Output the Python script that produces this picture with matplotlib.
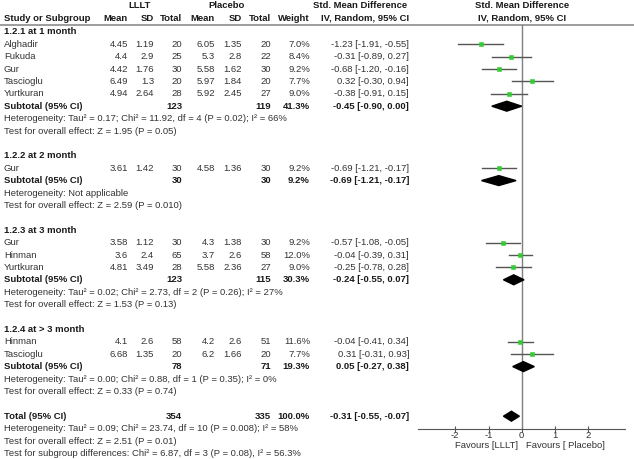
import numpy as np
import matplotlib.pyplot as plt
from matplotlib.patches import Polygon

plt.rcParams['font.family'] = ['Liberation Sans', 'DejaVu Sans']
plt.rcParams['axes.unicode_minus'] = False

# ---- data ----
group_titles = ["1.2.1 at 1 month", "1.2.2 at 2 month", "1.2.3 at 3 month", "1.2.4 at > 3 month"]

study_names = ["Alghadir", "Fukuda", "Gur", "Tascioglu", "Yurtkuran",
               "Gur",
               "Gur", "Hinman", "Yurtkuran",
               "Hinman", "Tascioglu"]
study_group = [0, 0, 0, 0, 0, 1, 2, 2, 2, 3, 3]
lllt_mean = ["4.45", "4.4", "4.42", "6.49", "4.94", "3.61", "3.58", "3.6", "4.81", "4.1", "6.68"]
lllt_sd = ["1.19", "2.9", "1.76", "1.3", "2.64", "1.42", "1.12", "2.4", "3.49", "2.6", "1.35"]
lllt_n = [20, 25, 30, 20, 28, 30, 30, 65, 28, 58, 20]
plac_mean = ["6.05", "5.3", "5.58", "5.97", "5.92", "4.58", "4.3", "3.7", "5.58", "4.2", "6.2"]
plac_sd = ["1.35", "2.8", "1.62", "1.84", "2.45", "1.36", "1.38", "2.6", "2.36", "2.6", "1.66"]
plac_n = [20, 22, 30, 20, 27, 30, 30, 58, 27, 51, 20]
weight = [7.0, 8.4, 9.2, 7.7, 9.0, 9.2, 9.2, 12.0, 9.0, 11.6, 7.7]
smd = [-1.23, -0.31, -0.68, 0.32, -0.38, -0.69, -0.57, -0.04, -0.25, -0.04, 0.31]
ci_lo = [-1.91, -0.89, -1.20, -0.30, -0.91, -1.21, -1.08, -0.39, -0.78, -0.41, -0.31]
ci_hi = [-0.55, 0.27, -0.16, 0.94, 0.15, -0.17, -0.05, 0.31, 0.28, 0.34, 0.93]

sub_n_lllt = [123, 30, 123, 78]
sub_n_plac = [119, 30, 115, 71]
sub_weight = [41.3, 9.2, 30.3, 19.3]
sub_smd = [-0.45, -0.69, -0.24, 0.05]
sub_lo = [-0.90, -1.21, -0.55, -0.27]
sub_hi = [0.00, -0.17, 0.07, 0.38]
sub_het = ["Heterogeneity: Tau\u00b2 = 0.17; Chi\u00b2 = 11.92, df = 4 (P = 0.02); I\u00b2 = 66%",
           "Heterogeneity: Not applicable",
           "Heterogeneity: Tau\u00b2 = 0.02; Chi\u00b2 = 2.73, df = 2 (P = 0.26); I\u00b2 = 27%",
           "Heterogeneity: Tau\u00b2 = 0.00; Chi\u00b2 = 0.88, df = 1 (P = 0.35); I\u00b2 = 0%"]
sub_z = ["Test for overall effect: Z = 1.95 (P = 0.05)",
         "Test for overall effect: Z = 2.59 (P = 0.010)",
         "Test for overall effect: Z = 1.53 (P = 0.13)",
         "Test for overall effect: Z = 0.33 (P = 0.74)"]

total_n = [354, 335]
total_smd, total_lo, total_hi = -0.31, -0.55, -0.07
total_notes = ["Heterogeneity: Tau\u00b2 = 0.09; Chi\u00b2 = 23.74, df = 10 (P = 0.008); I\u00b2 = 58%",
               "Test for overall effect: Z = 2.51 (P = 0.01)",
               "Test for subgroup differences: Chi\u00b2 = 6.87, df = 3 (P = 0.08), I\u00b2 = 56.3%"]

# ---- layout (pixels) ----
W, H = 634, 459
Y0, DY = 31.8, 12.4          # pixel y of row 0, row spacing
ZERO_PX, PX_PER = 521.7, 33.2
X0, X1 = 417.7, 625.0
col_right = [128, 154, 182, 215, 242, 271, 310]
eff_right = 409
name_x = 4
FS = 6.8
TXT = '#333333'
BLD = '#1a1a1a'
GREEN = '#33cc33'

fig = plt.figure(figsize=(W / 100, H / 100), dpi=100)


def frac(k):
    return 1 - (Y0 + DY * k) / H


tab = fig.add_axes([0, 0, 1, 1])
tab.set_xlim(0, W)
tab.set_ylim((H - Y0) / DY, -Y0 / DY)
tab.axis('off')

ax = fig.add_axes([X0 / W, frac(32), (X1 - X0) / W, frac(-0.55) - frac(32)])
ax.set_facecolor('none')
ax.set_xlim((X0 - ZERO_PX) / PX_PER, (X1 - ZERO_PX) / PX_PER)
ax.set_ylim(32, -0.55)


def t(x, y, s, ha='left', bold=False):
    tab.text(x, y, s, ha=ha, va='center', fontsize=FS,
             fontweight='bold' if bold else 'normal', color=BLD if bold else TXT)


def diamond(est, lo, hi, y):
    ax.add_patch(Polygon([[lo, y], [est, y - 0.4], [hi, y], [est, y + 0.4]],
                         closed=True, color='black', zorder=4))


def fmt_eff(e, lo, hi):
    return f"{e:.2f} [{lo:.2f}, {hi:.2f}]"


# headers
hk1, hk2 = -2.1, -1.1
t(140, hk1, "LLLT", 'center', True)
t(227, hk1, "Placebo", 'center', True)
t(360, hk1, "Std. Mean Difference", 'center', True)
t(ZERO_PX, hk1, "Std. Mean Difference", 'center', True)
t(name_x, hk2, "Study or Subgroup", bold=True)
for xr, lab in zip(col_right, ["Mean", "SD", "Total", "Mean", "SD", "Total", "Weight"]):
    t(xr, hk2, lab, 'right', True)
t(eff_right, hk2, "IV, Random, 95% CI", 'right', True)
t(ZERO_PX, hk2, "IV, Random, 95% CI", 'center', True)
tab.axhline(-0.55, color='#8c8c8c', lw=1.2)

# rows
k = 0
for g in range(len(group_titles)):
    t(name_x, k, group_titles[g], bold=True)
    k += 1
    for i in [j for j in range(len(study_names)) if study_group[j] == g]:
        vals = [lllt_mean[i], lllt_sd[i], str(lllt_n[i]), plac_mean[i], plac_sd[i],
                str(plac_n[i]), f"{weight[i]:.1f}%"]
        t(name_x, k, study_names[i])
        for xr, v in zip(col_right, vals):
            t(xr, k, v, 'right')
        t(eff_right, k, fmt_eff(smd[i], ci_lo[i], ci_hi[i]), 'right')
        ax.plot([ci_lo[i], ci_hi[i]], [k, k], color='#555555', lw=1.0, zorder=3)
        # square size grows with study weight
        ax.plot(smd[i], k, 's', color=GREEN, mec=GREEN, mew=0.4,
                ms=(2.0 + 0.2 * weight[i]) / 1.389, zorder=4)
        k += 1
    t(name_x, k, "Subtotal (95% CI)", bold=True)
    t(col_right[2], k, str(sub_n_lllt[g]), 'right', True)
    t(col_right[5], k, str(sub_n_plac[g]), 'right', True)
    t(col_right[6], k, f"{sub_weight[g]:.1f}%", 'right', True)
    t(eff_right, k, fmt_eff(sub_smd[g], sub_lo[g], sub_hi[g]), 'right', True)
    diamond(sub_smd[g], sub_lo[g], sub_hi[g], k)
    k += 1
    t(name_x, k, sub_het[g])
    k += 1
    t(name_x, k, sub_z[g])
    k += 2

t(name_x, k, "Total (95% CI)", bold=True)
t(col_right[2], k, str(total_n[0]), 'right', True)
t(col_right[5], k, str(total_n[1]), 'right', True)
t(col_right[6], k, "100.0%", 'right', True)
t(eff_right, k, fmt_eff(total_smd, total_lo, total_hi), 'right', True)
diamond(total_smd, total_lo, total_hi, k)
for note in total_notes:
    k += 1
    t(name_x, k, note)

# forest axis
ax.axvline(0, color='#7f7f7f', lw=1.0, zorder=2)
for s in ['top', 'right', 'left']:
    ax.spines[s].set_visible(False)
ax.spines['bottom'].set_color('#555555')
ax.set_yticks([])
ax.set_xticks([-2, -1, 0, 1, 2])
ax.tick_params(axis='x', direction='inout', length=4, width=0.8, color='#555555',
               labelsize=FS, labelcolor=TXT, pad=0)
ax.text(-0.12, 33.35, "Favours [LLLT]", ha='right', va='center', fontsize=FS, color=TXT, clip_on=False)
ax.text(0.12, 33.35, "Favours [ Placebo]", ha='left', va='center', fontsize=FS, color=TXT, clip_on=False)

fig.savefig('out.png', dpi=100)
